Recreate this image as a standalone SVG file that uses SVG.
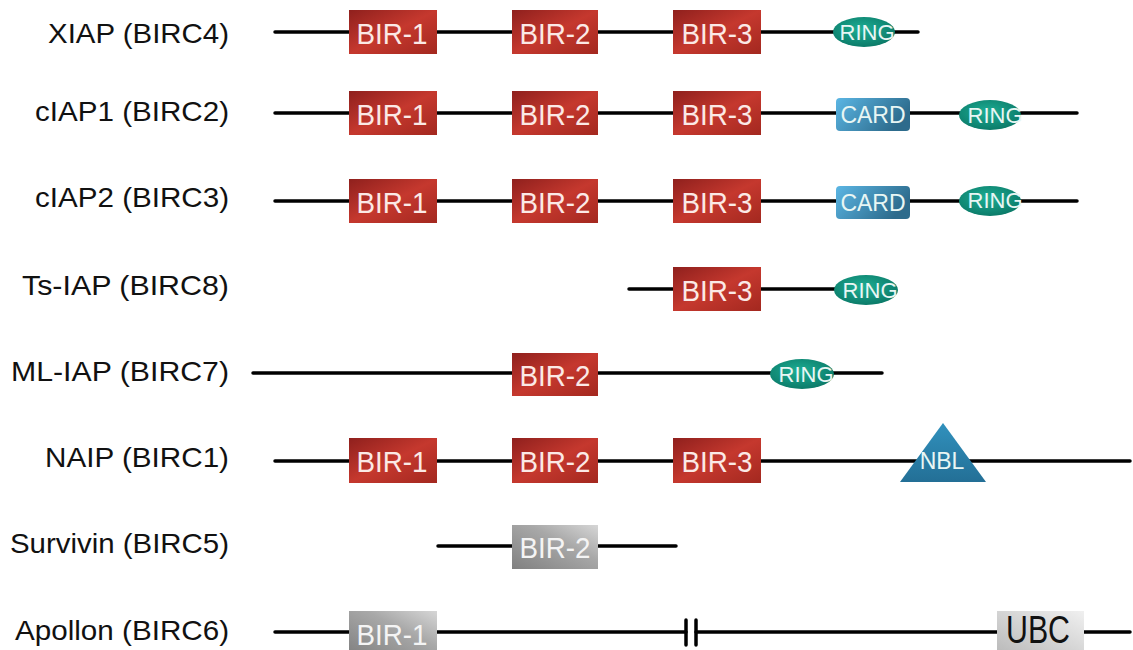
<svg xmlns="http://www.w3.org/2000/svg" width="1133" height="650" viewBox="0 0 1133 650">
<defs>
<linearGradient id="gRed" x1="0" y1="0" x2="1" y2="1">
<stop offset="0" stop-color="#8f201d"/>
<stop offset="0.5" stop-color="#c5382e"/>
<stop offset="1" stop-color="#a3281f"/>
</linearGradient>
<linearGradient id="gBlue" x1="0" y1="0" x2="1" y2="0.4">
<stop offset="0" stop-color="#5bb6e4"/>
<stop offset="1" stop-color="#2d6b8c"/>
</linearGradient>
<radialGradient id="gTeal" cx="0.45" cy="0.4" r="0.6">
<stop offset="0" stop-color="#1cae94"/>
<stop offset="1" stop-color="#0c7b69"/>
</radialGradient>
<linearGradient id="gNbl" x1="0" y1="0" x2="0" y2="1">
<stop offset="0" stop-color="#3191bd"/>
<stop offset="1" stop-color="#236f96"/>
</linearGradient>
<linearGradient id="gGray" x1="0" y1="1" x2="1" y2="0">
<stop offset="0" stop-color="#808080"/>
<stop offset="0.6" stop-color="#a8a8a8"/>
<stop offset="1" stop-color="#d6d6d6"/>
</linearGradient>
<linearGradient id="gLight" x1="0" y1="1" x2="1" y2="0">
<stop offset="0" stop-color="#b8b8b8"/>
<stop offset="1" stop-color="#f0f0f0"/>
</linearGradient>
</defs>
<style>
.lbl{font-family:"Liberation Sans",Arial,sans-serif;font-size:28px;fill:#111;text-anchor:end}
.ln{stroke:#000;stroke-width:3.5;stroke-linecap:round;fill:none}
.bir{fill:url(#gRed)}
.gbir{fill:url(#gGray)}
.bt{font-family:"Liberation Sans",Arial,sans-serif;font-size:29px;fill:#fbe9e6;text-anchor:middle}
.gbt{fill:#f4f4f4}
.card{fill:url(#gBlue)}
.ring{fill:url(#gTeal)}
.st{font-family:"Liberation Sans",Arial,sans-serif;font-size:22px;fill:#e8f6f4;text-anchor:middle}
.big{font-size:23px}
</style>
<rect width="1133" height="650" fill="#ffffff"/>

<g id="labels">
<text class="lbl" x="229" y="43" textLength="181" lengthAdjust="spacingAndGlyphs">XIAP (BIRC4)</text>
<text class="lbl" x="229" y="121" textLength="194" lengthAdjust="spacingAndGlyphs">cIAP1 (BIRC2)</text>
<text class="lbl" x="229" y="207" textLength="194" lengthAdjust="spacingAndGlyphs">cIAP2 (BIRC3)</text>
<text class="lbl" x="229" y="295" textLength="207" lengthAdjust="spacingAndGlyphs">Ts-IAP (BIRC8)</text>
<text class="lbl" x="229" y="381" textLength="218" lengthAdjust="spacingAndGlyphs">ML-IAP (BIRC7)</text>
<text class="lbl" x="229" y="467" textLength="184" lengthAdjust="spacingAndGlyphs">NAIP (BIRC1)</text>
<text class="lbl" x="229" y="553" textLength="219" lengthAdjust="spacingAndGlyphs">Survivin (BIRC5)</text>
<text class="lbl" x="229" y="640" textLength="214" lengthAdjust="spacingAndGlyphs">Apollon (BIRC6)</text>
</g>

<g id="connectors">
<line class="ln" x1="275" y1="32" x2="918" y2="32"/>
<line class="ln" x1="275" y1="113" x2="1077" y2="113"/>
<line class="ln" x1="275" y1="201" x2="1077" y2="201"/>
<line class="ln" x1="629" y1="289" x2="868" y2="289"/>
<line class="ln" x1="253" y1="373" x2="882" y2="373"/>
<line class="ln" x1="275" y1="461" x2="1130" y2="461"/>
<line class="ln" x1="438" y1="546" x2="676" y2="546"/>
<line class="ln" x1="275" y1="632" x2="686" y2="632"/>
<line class="ln" x1="696" y1="632" x2="1130" y2="632"/>
<line class="ln" x1="686" y1="620" x2="686" y2="645" stroke-linecap="butt"/>
<line class="ln" x1="696" y1="620" x2="696" y2="645" stroke-linecap="butt"/>
</g>

<g id="xiap">
<rect class="bir" x="349" y="10" width="88" height="44"/><text class="bt" x="392" y="44" textLength="71" lengthAdjust="spacingAndGlyphs">BIR-1</text>
<rect class="bir" x="512" y="10" width="86" height="44"/><text class="bt" x="555" y="44" textLength="71" lengthAdjust="spacingAndGlyphs">BIR-2</text>
<rect class="bir" x="673" y="10" width="88" height="44"/><text class="bt" x="717" y="44" textLength="71" lengthAdjust="spacingAndGlyphs">BIR-3</text>
<ellipse class="ring" cx="864" cy="32" rx="31" ry="15"/><text class="st" x="867" y="40">RING</text>
</g>

<g id="ciap1">
<rect class="bir" x="349" y="91" width="88" height="44"/><text class="bt" x="392" y="125" textLength="71" lengthAdjust="spacingAndGlyphs">BIR-1</text>
<rect class="bir" x="512" y="91" width="86" height="44"/><text class="bt" x="555" y="125" textLength="71" lengthAdjust="spacingAndGlyphs">BIR-2</text>
<rect class="bir" x="673" y="91" width="88" height="44"/><text class="bt" x="717" y="125" textLength="71" lengthAdjust="spacingAndGlyphs">BIR-3</text>
<rect class="card" x="836" y="98" width="74" height="33" rx="4"/><text class="st big" x="873" y="123">CARD</text>
<ellipse class="ring" cx="990" cy="115" rx="31" ry="15"/><text class="st" x="995" y="123">RING</text>
</g>

<g id="ciap2">
<rect class="bir" x="349" y="179" width="88" height="44"/><text class="bt" x="392" y="213" textLength="71" lengthAdjust="spacingAndGlyphs">BIR-1</text>
<rect class="bir" x="512" y="179" width="86" height="44"/><text class="bt" x="555" y="213" textLength="71" lengthAdjust="spacingAndGlyphs">BIR-2</text>
<rect class="bir" x="673" y="179" width="88" height="44"/><text class="bt" x="717" y="213" textLength="71" lengthAdjust="spacingAndGlyphs">BIR-3</text>
<rect class="card" x="836" y="186" width="74" height="33" rx="4"/><text class="st big" x="873" y="211">CARD</text>
<ellipse class="ring" cx="990" cy="201" rx="31" ry="15"/><text class="st" x="995" y="208">RING</text>
</g>

<g id="tsiap">
<rect class="bir" x="673" y="267" width="88" height="44"/><text class="bt" x="717" y="301" textLength="71" lengthAdjust="spacingAndGlyphs">BIR-3</text>
<ellipse class="ring" cx="866" cy="290" rx="32" ry="15"/><text class="st" x="870" y="298">RING</text>
</g>

<g id="mliap">
<rect class="bir" x="512" y="353" width="86" height="43"/><text class="bt" x="555" y="386" textLength="71" lengthAdjust="spacingAndGlyphs">BIR-2</text>
<ellipse class="ring" cx="802" cy="374" rx="32" ry="15"/><text class="st" x="806" y="382">RING</text>
</g>

<g id="naip">
<rect class="bir" x="349" y="438" width="88" height="45"/><text class="bt" x="392" y="472" textLength="71" lengthAdjust="spacingAndGlyphs">BIR-1</text>
<rect class="bir" x="512" y="438" width="86" height="45"/><text class="bt" x="555" y="472" textLength="71" lengthAdjust="spacingAndGlyphs">BIR-2</text>
<rect class="bir" x="673" y="438" width="88" height="45"/><text class="bt" x="717" y="472" textLength="71" lengthAdjust="spacingAndGlyphs">BIR-3</text>
<polygon points="943,423 900,482 986,482" fill="url(#gNbl)"/><text class="st big" x="942" y="469">NBL</text>
</g>

<g id="survivin">
<rect class="gbir" x="512" y="525" width="86" height="44"/><text class="bt gbt" x="555" y="558" textLength="71" lengthAdjust="spacingAndGlyphs">BIR-2</text>
</g>

<g id="apollon">
<rect class="gbir" x="349" y="611" width="88" height="45"/><text class="bt gbt" x="392" y="645" textLength="71" lengthAdjust="spacingAndGlyphs">BIR-1</text>
<rect x="997" y="611" width="87" height="45" fill="url(#gLight)"/><text x="1038" y="643" font-family="'Liberation Sans',Arial,sans-serif" font-size="38" text-anchor="middle" fill="#111" textLength="64" lengthAdjust="spacingAndGlyphs">UBC</text>
</g>
</svg>
